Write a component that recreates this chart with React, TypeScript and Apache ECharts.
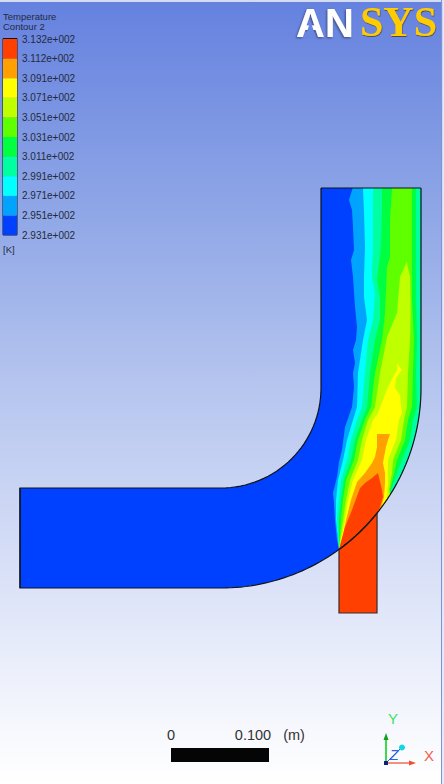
import React, { useEffect, useRef } from "react";
import * as echarts from "echarts";

type P = [number, number];

const legendTicks = ["2.931e+002","2.951e+002","2.971e+002","2.991e+002","3.011e+002","3.031e+002","3.051e+002","3.071e+002","3.091e+002","3.112e+002","3.132e+002"];
const bandColors = ["#0040FF","#00A4FF","#00FFFF","#00FFA0","#00FF40","#60FF00","#BFFF00","#FFFF00","#FFA000","#FF4000"];

// The duct is a true circular bend, so its walls are arcs about the bend centre.
const bendCentre: P = [221, 388];
const innerRadius = 100;
const outerRadius = 200;
const arc = (r: number, fromDeg: number, toDeg: number, n: number): P[] =>
  Array.from({ length: n + 1 }, (_, i) => {
    const t = ((fromDeg + ((toDeg - fromDeg) * i) / n) * Math.PI) / 180;
    return [bendCentre[0] + r * Math.cos(t), bendCentre[1] + r * Math.sin(t)] as P;
  });
const interfaceFrom = (Math.atan2(161.5, 118) * 180) / Math.PI;
const interfaceTo = (Math.atan2(125, 156) * 180) / Math.PI;
const ductOutline: P[] = [[321,188],...arc(innerRadius,0,90,32),[20,488],[20,588],...arc(outerRadius,90,0,64),[421,188]];
const interfaceLine: P[] = arc(outerRadius, interfaceFrom, interfaceTo, 10);
const injector: P[] = [...interfaceLine, [377,613],[339,613]];

const level1: P[] = [[352,180],[352.7,188],[349,200],[352,210],[353,227],[354,250],[351,260],[353,277],[355,307],[357,327],[356,340],[353,350],[355,363],[353,373],[354,387],[352,407],[345,427],[342,450],[339,462],[337,477],[333,493],[334,503],[335,520],[337,540],[339,549],[440,549],[440,180]];
const level2: P[] = [[363,180],[363,188],[364,213],[365,247],[364,277],[364,297],[367,320],[363,340],[358,373],[357,407],[353,420],[347,440],[343,460],[338,480],[336,500],[336,520],[339,549],[440,549],[440,180]];
const level3: P[] = [[373,180],[373,213],[373,247],[372,277],[375,293],[373,320],[368,340],[365,373],[362,407],[357,420],[351,440],[347,460],[341,480],[339,500],[337,520],[339,549],[440,549],[440,180]];
const level4: P[] = [[382,180],[382,213],[381,247],[377,280],[380,297],[380,320],[375,340],[370,373],[367,407],[362,420],[355,440],[351,460],[344,480],[341,500],[339,520],[339,549],[400,545],[391,490],[397,473],[402,460],[410,440],[413,420],[417,407],[416,373],[417,340],[416,300],[416,180]];
const level5: P[] = [[392.7,180],[390,220],[390,257],[387,267],[386,290],[385,313],[382,340],[375,373],[371,407],[365,420],[358,440],[354,460],[346,480],[343,500],[341,520],[339,549],[400,545],[390,490],[394,473],[397,460],[405,440],[408,420],[412,407],[413,373],[414,340],[412,300],[412,180]];
const level6: P[] = [[406.7,262],[400,277],[397,313],[387,337],[380,373],[375,407],[368,420],[362,440],[358,460],[350,480],[346,500],[343,520],[339,549],[400,545],[389,490],[392,473],[393,460],[401,440],[404,420],[407,407],[408,373],[410,340],[410.7,313],[410,277]];
const level7: P[] = [[397,363],[402,370],[396,378],[395,388],[400,395],[402,413],[399,420],[396,440],[388,460],[388,483],[387,497],[400,545],[339,549],[341,540],[345,520],[348,500],[353,480],[362,460],[366,440],[373,420],[378,413],[383,400],[388,387],[393,377],[397,370]];
const level8: P[] = [[377,434],[390,434],[388,440],[386,447],[384,457],[383,463],[385,473],[385,483],[384,497],[382,505],[395,545],[339,549],[342,540],[346,520],[351,500],[357,482],[365,473],[372,463],[375,457],[377,447]];
const level9: P[] = [[378,473],[382,490],[383,497],[380,507],[378,513],[395,545],[339,549],[345,527],[352,510],[360,488],[365,483],[372,478]];
const contourLevels: P[][] = [ductOutline, level1, level2, level3, level4, level5, level6, level7, level8, level9];

export default function App() {
  const ref = useRef<HTMLDivElement>(null);
  useEffect(() => {
    const chart = echarts.init(ref.current!, undefined, { renderer: "svg" });
    const font = "'Liberation Sans', Arial, sans-serif";
    const toPx = (api: any, pts: P[]) => pts.map((p) => api.coord(p));
    chart.setOption({
      animation: false,
      backgroundColor: new echarts.graphic.LinearGradient(0, 0, 0, 1, [
        { offset: 0, color: "#6481DF" },
        { offset: 0.25, color: "#8CA4E6" },
        { offset: 0.5, color: "#B7C6EF" },
        { offset: 0.75, color: "#DCE3F8" },
        { offset: 0.92, color: "#F5F7FD" },
        { offset: 1, color: "#FFFFFF" },
      ]),
      grid: [
        { left: 0, top: 0, width: 444, height: 784 },
        { left: 3, top: 39, width: 14, height: 196 },
      ],
      xAxis: [
        { type: "value", min: 0, max: 444, show: false, gridIndex: 0 },
        { type: "value", min: 0, max: 1, show: false, gridIndex: 1 },
      ],
      yAxis: [
        { type: "value", min: 0, max: 784, inverse: true, show: false, gridIndex: 0 },
        {
          type: "value", min: 0, max: 10, interval: 1, gridIndex: 1, position: "right",
          axisLine: { show: false }, axisTick: { show: false }, splitLine: { show: false },
          axisLabel: {
            show: true, margin: 5, fontSize: 10, fontFamily: font, color: "#242a3c",
            showMinLabel: true, showMaxLabel: true, hideOverlap: false,
            formatter: (v: number) => legendTicks[Math.round(v)],
          },
        },
      ],
      series: [
        {
          type: "custom", coordinateSystem: "cartesian2d", xAxisIndex: 0, yAxisIndex: 0, silent: true,
          data: contourLevels.map((_, i) => [i]),
          renderItem: (params: any, api: any) => ({
            type: "polygon",
            shape: { points: toPx(api, contourLevels[params.dataIndex]) },
            style: { fill: bandColors[params.dataIndex] },
            clipPath: { type: "polygon", shape: { points: toPx(api, ductOutline) } },
          }),
        },
        {
          type: "custom", coordinateSystem: "cartesian2d", xAxisIndex: 0, yAxisIndex: 0, silent: true,
          data: [[0]],
          renderItem: (_: any, api: any) => ({
            type: "group",
            children: [
              { type: "polygon", shape: { points: toPx(api, injector) }, style: { fill: bandColors[9], stroke: "#3a2a2a", lineWidth: 1.2 } },
              { type: "polyline", shape: { points: toPx(api, ductOutline) }, style: { fill: "none", stroke: "#10131c", lineWidth: 1.2 } },
              { type: "polyline", shape: { points: toPx(api, [[321,188],[421,188]]) }, style: { fill: "none", stroke: "#10131c", lineWidth: 1.2 } },
              { type: "polyline", shape: { points: toPx(api, [[20,488],[20,588]]) }, style: { fill: "none", stroke: "#10131c", lineWidth: 1.2 } },
              { type: "polyline", shape: { points: toPx(api, interfaceLine) }, style: { fill: "none", stroke: "#202020", lineWidth: 1.2, lineDash: [5, 1] } },
            ],
          }),
        },
        {
          type: "custom", coordinateSystem: "cartesian2d", xAxisIndex: 1, yAxisIndex: 1, silent: true,
          data: bandColors.map((_, i) => [i]),
          renderItem: (params: any, api: any) => {
            const i = params.dataIndex;
            const a = api.coord([0, i + 1]);
            const b = api.coord([1, i]);
            return { type: "rect", shape: { x: a[0], y: a[1], width: b[0] - a[0], height: b[1] - a[1] }, style: { fill: bandColors[i] } };
          },
        },
      ],
      graphic: [
        { type: "rect", shape: { x: 0, y: 0, width: 444, height: 2 }, style: { fill: "#D5DBEE" } },
        { type: "rect", shape: { x: 441, y: 0, width: 1.2, height: 784 }, style: { fill: "#7F92D6" } },
        { type: "rect", shape: { x: 442.2, y: 0, width: 2, height: 784 }, style: { fill: "#E6EAF8" } },
        { type: "rect", shape: { x: 3, y: 38.5, width: 14, height: 196.5 }, style: { fill: "none", stroke: "#14141c", lineWidth: 1 } },
        { type: "text", style: { text: "Temperature", x: 3, y: 16, fontSize: 9.5, fontFamily: font, fill: "#242a3c", verticalAlign: "middle" } },
        { type: "text", style: { text: "Contour 2", x: 3, y: 26, fontSize: 9.5, fontFamily: font, fill: "#242a3c", verticalAlign: "middle" } },
        { type: "text", style: { text: "[K]", x: 3, y: 249, fontSize: 9.5, fontFamily: font, fill: "#242a3c", verticalAlign: "middle" } },
        { type: "text", style: { text: "AN", x: 296, y: 23, fontSize: 40, fontWeight: "bold", fontFamily: font, fill: "#FFFFFF", verticalAlign: "middle", textShadowColor: "#3a4a80", textShadowBlur: 2, textShadowOffsetX: -1, textShadowOffsetY: 1 } },
        { type: "polygon", shape: { points: [[310.5,21],[304.5,39],[316.5,39]] }, style: { fill: "#6985E0" } },
        { type: "text", style: { text: "SYS", x: 360, y: 21.5, fontSize: 42, fontWeight: "bold", fontFamily: "'Liberation Serif', serif", fill: "#FFCC00", verticalAlign: "middle", textShadowColor: "#4a4a50", textShadowBlur: 1, textShadowOffsetX: 0.5, textShadowOffsetY: 1 } },
        { type: "text", style: { text: "0", x: 171, y: 735, fontSize: 14.5, fontFamily: font, fill: "#333", align: "center", verticalAlign: "middle" } },
        { type: "text", style: { text: "0.100", x: 253, y: 735, fontSize: 14.5, fontFamily: font, fill: "#333", align: "center", verticalAlign: "middle" } },
        { type: "text", style: { text: "(m)", x: 294, y: 735, fontSize: 14.5, fontFamily: font, fill: "#333", align: "center", verticalAlign: "middle" } },
        { type: "rect", shape: { x: 171, y: 748, width: 98, height: 14 }, style: { fill: "#050505" } },
        { type: "line", shape: { x1: 386, y1: 763, x2: 386, y2: 736 }, style: { stroke: "#10D020", lineWidth: 1.6 } },
        { type: "polygon", shape: { points: [[386, 733], [383.5, 740], [388.5, 740]] }, style: { fill: "#10A020" } },
        { type: "line", shape: { x1: 386, y1: 763, x2: 412, y2: 763 }, style: { stroke: "#F06050", lineWidth: 1.4 } },
        { type: "polygon", shape: { points: [[416, 763], [409, 760.5], [409, 765.5]] }, style: { fill: "#F05030" } },
        { type: "line", shape: { x1: 386, y1: 763, x2: 401, y2: 748 }, style: { stroke: "#3050E0", lineWidth: 1 } },
        { type: "circle", shape: { cx: 402, cy: 747.5, r: 3 }, style: { fill: "#10D8E0" } },
        { type: "rect", shape: { x: 384, y: 761, width: 4, height: 4 }, style: { fill: "#102080" } },
        { type: "text", style: { text: "Y", x: 393, y: 718, fontSize: 15, fontFamily: font, fill: "#40E060", align: "center", verticalAlign: "middle" } },
        { type: "text", style: { text: "Z", x: 394, y: 754, fontSize: 15, fontStyle: "italic", fontFamily: font, fill: "#3060E0", align: "center", verticalAlign: "middle" } },
        { type: "text", style: { text: "X", x: 429, y: 755, fontSize: 15, fontFamily: font, fill: "#F06050", align: "center", verticalAlign: "middle" } },
      ],
    });
    return () => chart.dispose();
  }, []);
  return <div ref={ref} style={{ position: "absolute", left: 0, top: 0, width: 444, height: 784 }} />;
}
